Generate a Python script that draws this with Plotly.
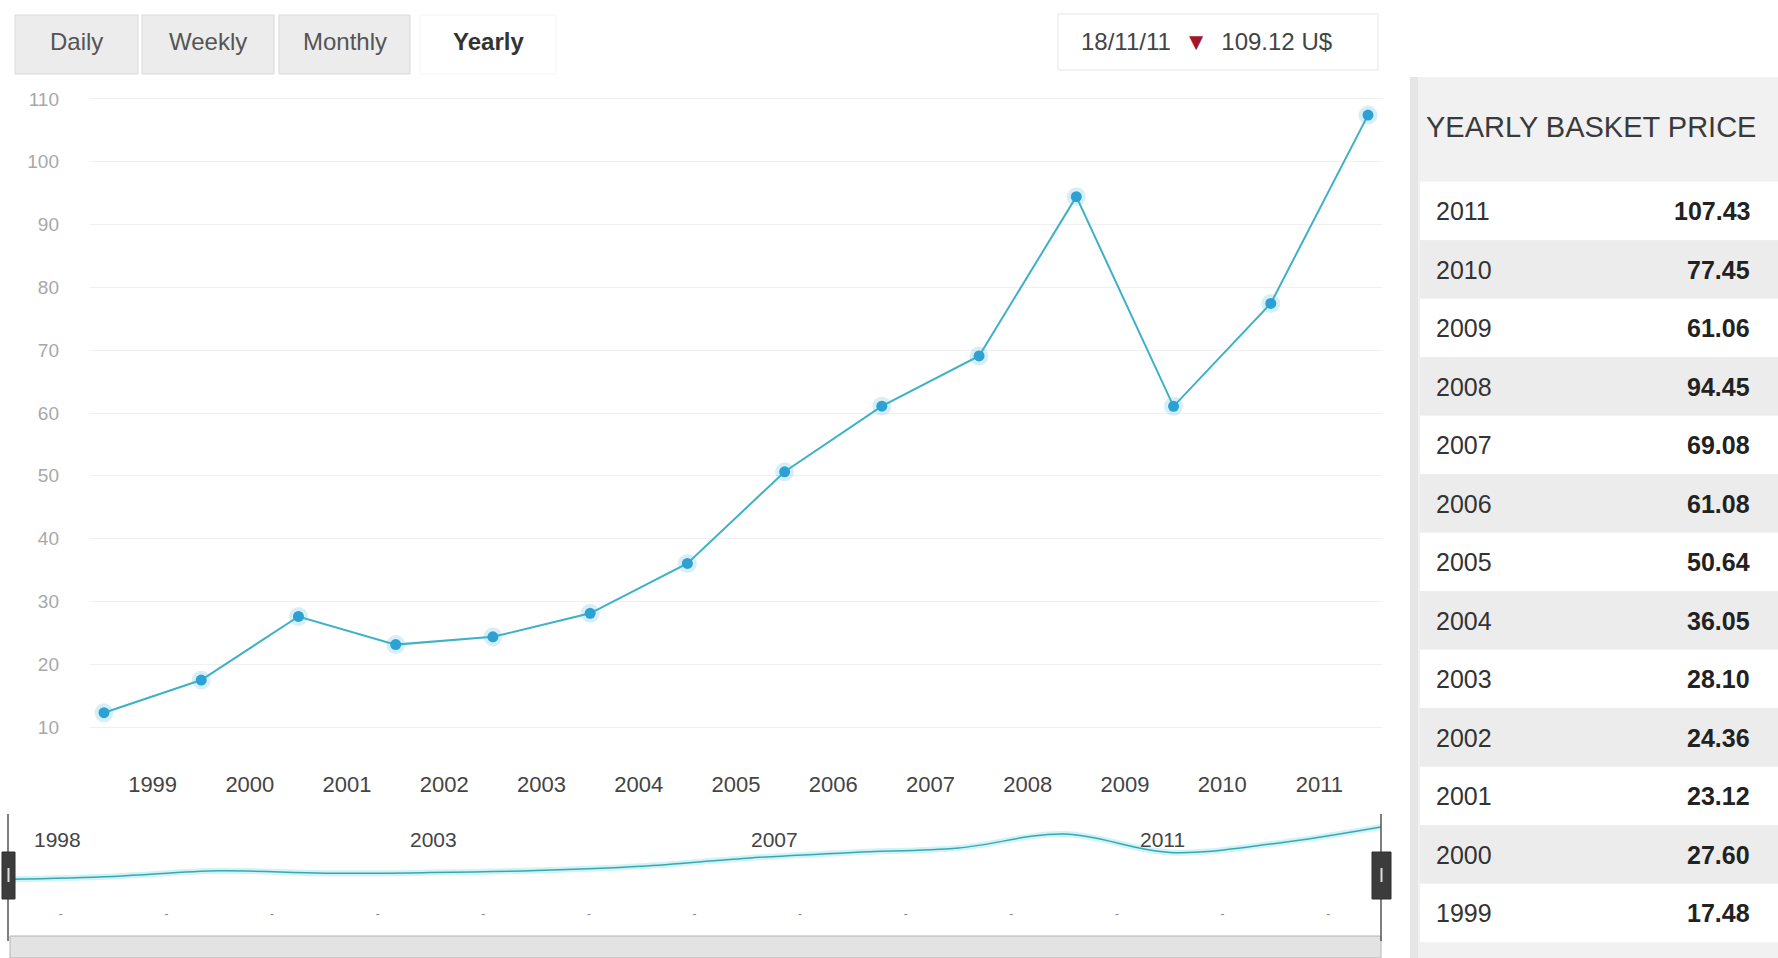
import plotly.graph_objects as go

W, H = 1778, 958

# ---- data ----
years = [1998, 1999, 2000, 2001, 2002, 2003, 2004, 2005, 2006, 2007, 2008, 2009, 2010, 2011]
prices = [12.28, 17.48, 27.60, 23.12, 24.36, 28.10, 36.05, 50.64, 61.08, 69.08, 94.45, 61.06, 77.45, 107.43]
tick_years = list(range(1999, 2012))
y_ticks = [10, 20, 30, 40, 50, 60, 70, 80, 90, 100, 110]
buttons = ["Daily", "Weekly", "Monthly", "Yearly"]
active_button = "Yearly"
last_date = "18/11/11"
last_price = 109.12
panel_title = "YEARLY BASKET PRICE"
nav_labels = ["1998", "2003", "2007", "2011"]

# yearly averages are plotted at mid-year
x_mid = [y + 0.5 for y in years]

FONT = "Liberation Sans, Arial, sans-serif"


def px(x):
    return x / W


def py(y):
    return 1 - y / H


def label(x, y, text, size, color, xanchor="center", xref="paper"):
    return dict(xref=xref, yref="paper", x=x, y=y, text=text, showarrow=False,
                xanchor=xanchor, yanchor="middle",
                font=dict(family=FONT, size=size, color=color))


fig = go.Figure()

# main series: soft halo under the markers, then line + markers
fig.add_trace(go.Scatter(
    x=x_mid, y=prices, mode="markers",
    marker=dict(size=19, color="rgba(60,170,215,0.2)"),
    hoverinfo="skip", showlegend=False, xaxis="x", yaxis="y"))
fig.add_trace(go.Scatter(
    x=x_mid, y=prices, mode="lines+markers",
    line=dict(color="#3db1c6", width=2),
    marker=dict(size=11, color="#2ba2d3"),
    showlegend=False, xaxis="x", yaxis="y"))

# navigator series
fig.add_trace(go.Scatter(
    x=x_mid, y=prices, mode="lines", line_shape="spline",
    line=dict(color="rgba(120,220,235,0.35)", width=6),
    hoverinfo="skip", showlegend=False, xaxis="x2", yaxis="y2"))
fig.add_trace(go.Scatter(
    x=x_mid, y=prices, mode="lines", line_shape="spline",
    line=dict(color="#3aa7ad", width=1.5),
    showlegend=False, xaxis="x2", yaxis="y2"))

shapes = []
annotations = []

# range-selector buttons
btn_box = {"Daily": (15, 138), "Weekly": (142, 274), "Monthly": (279, 410), "Yearly": (420, 556)}
for name in buttons:
    x0, x1 = btn_box[name]
    active = name == active_button
    shapes.append(dict(
        type="rect", xref="paper", yref="paper",
        x0=px(x0), x1=px(x1), y0=py(74), y1=py(15),
        fillcolor="#ffffff" if active else "#ececec",
        line=dict(color="#f4f4f4" if active else "#d9d9d9", width=1), layer="below"))
    annotations.append(label(px((x0 + x1) / 2), py(42),
                             f"<b>{name}</b>" if active else name,
                             24, "#333" if active else "#555"))

# last quote box
shapes.append(dict(type="rect", xref="paper", yref="paper",
                   x0=px(1058), x1=px(1378), y0=py(70), y1=py(14),
                   fillcolor="#ffffff", line=dict(color="#e6e6e6", width=1), layer="below"))
annotations.append(label(
    px(1206), py(42),
    f"{last_date}  <span style='color:#a3142e'>▼</span>  {last_price:.2f} U$",
    24, "#444"))

# side panel with the yearly table
shapes.append(dict(type="rect", xref="paper", yref="paper",
                   x0=px(1410), x1=1, y0=0, y1=py(77),
                   fillcolor="#f1f1f1", line=dict(width=0), layer="below"))
shapes.append(dict(type="rect", xref="paper", yref="paper",
                   x0=px(1410), x1=px(1418), y0=0, y1=py(77),
                   fillcolor="#e6e6e6", line=dict(width=0), layer="below"))
annotations.append(label(px(1424), py(127), panel_title, 29, "#3a3a3a", xanchor="left"))

row_years = years[::-1][:-1]
row_prices = prices[::-1][:-1]
ROW0, ROWH = 211, 58.5
for i, (yr, pr) in enumerate(zip(row_years, row_prices)):
    cy = ROW0 + i * ROWH
    shapes.append(dict(type="rect", xref="paper", yref="paper",
                       x0=px(1420), x1=1, y0=py(cy + ROWH / 2), y1=py(cy - ROWH / 2),
                       fillcolor="#ffffff" if i % 2 == 0 else "#ececec",
                       line=dict(width=0), layer="below"))
    annotations.append(label(px(1434), py(cy), str(yr), 25, "#333", xanchor="left"))
    annotations.append(label(px(1752), py(cy), f"<b>{pr:.2f}</b>", 25, "#222", xanchor="right"))

# navigator frame: handles, edges and scrollbar
for xe in (8, 1381):
    shapes.append(dict(type="line", xref="paper", yref="paper",
                       x0=px(xe), x1=px(xe), y0=py(941), y1=py(814),
                       line=dict(color="#555", width=1.5)))
for hx0, hx1 in ((2, 15), (1372, 1391)):
    shapes.append(dict(type="rect", xref="paper", yref="paper",
                       x0=px(hx0), x1=px(hx1), y0=py(899), y1=py(852),
                       fillcolor="#3c3c3c", line=dict(color="#2e2e2e", width=1)))
    mid = (hx0 + hx1) / 2
    shapes.append(dict(type="line", xref="paper", yref="paper",
                       x0=px(mid), x1=px(mid), y0=py(882), y1=py(868),
                       line=dict(color="#dddddd", width=2)))
shapes.append(dict(type="rect", xref="paper", yref="paper",
                   x0=px(10), x1=px(1381), y0=0, y1=py(936),
                   fillcolor="#e3e3e3", line=dict(color="#b5b5b5", width=1), layer="below"))

nav_label_x = [1998.73, 2002.53, 2005.76, 2009.43]
for lbl, lx in zip(nav_labels, nav_label_x):
    annotations.append(label(lx, py(839), lbl, 21, "#444",
                             xanchor="left" if lbl == nav_labels[0] else "center",
                             xref="x2"))

fig.update_layout(
    width=W, height=H,
    margin=dict(l=0, r=0, t=0, b=0),
    paper_bgcolor="#ffffff", plot_bgcolor="rgba(0,0,0,0)",
    showlegend=False,
    font=dict(family=FONT),
    shapes=shapes, annotations=annotations,
    xaxis=dict(
        domain=[px(90), px(1382)], range=[1998.356, 2011.644],
        tickvals=tick_years, ticktext=[str(t) for t in tick_years],
        showgrid=False, zeroline=False, showline=False, ticks="",
        ticklabelstandoff=19,
        tickfont=dict(family=FONT, size=22, color="#444")),
    yaxis=dict(
        domain=[py(750), py(90)], range=[6.34, 111.43],
        tickvals=y_ticks, showgrid=True, gridcolor="#f0f0f0", gridwidth=1,
        zeroline=False, showline=False, ticks="",
        ticklabelstandoff=30,
        tickfont=dict(family=FONT, size=19, color="#a8a8a8")),
    xaxis2=dict(
        domain=[px(8), px(1381)], range=[1998.5, 2011.5], anchor="y2",
        tickvals=tick_years, ticktext=["-"] * len(tick_years),
        showgrid=False, zeroline=False, showline=False, ticks="",
        ticklabelstandoff=2,
        tickfont=dict(family=FONT, size=12, color="#888")),
    yaxis2=dict(
        domain=[py(903), py(815)], range=[-30.9, 129.1], anchor="x2",
        showticklabels=False, showgrid=False, zeroline=False, showline=False),
)

fig.write_html("out.html")
